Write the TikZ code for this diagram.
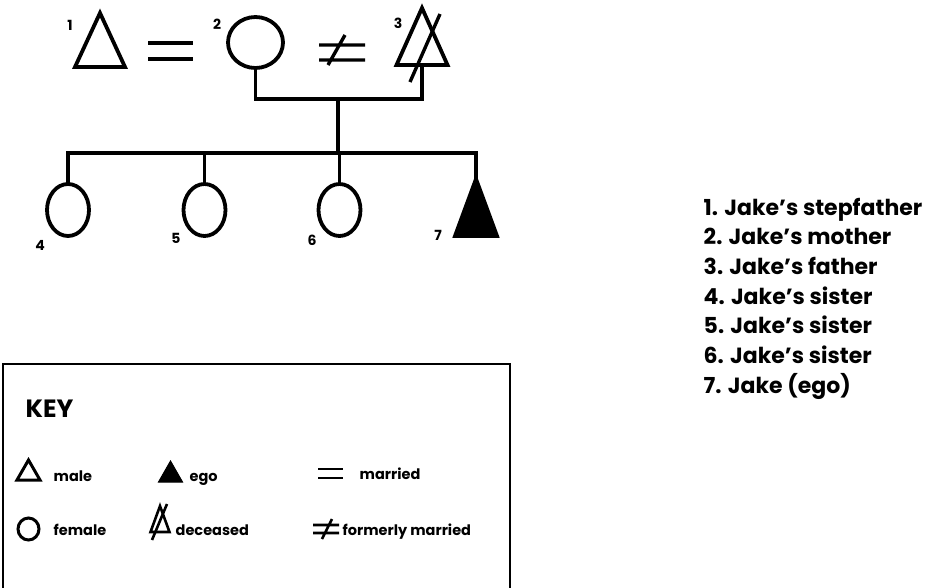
\documentclass[tikz,border=0pt]{standalone}
\usepackage{fontspec}
\setmainfont{Poppins}
\usetikzlibrary{shapes.geometric}

\begin{document}
\begin{tikzpicture}[x=1pt, y=-1pt, line width=3.4pt,
sym/.style={draw, line width=3.8pt, inner sep=0pt, outer sep=0pt},
female/.style={sym, ellipse},
male/.style={sym, isosceles triangle, isosceles triangle stretches, shape border rotate=90, anchor=apex},
ego/.style={male, fill=black},
num/.style={inner sep=0pt, font=\bfseries\fontsize{14}{14}\selectfont},
item/.style={anchor=base west, inner sep=0pt, font=\bfseries\fontsize{22}{22}\selectfont},
keytext/.style={anchor=base west, inner sep=0pt, font=\bfseries\fontsize{14.5}{14.5}\selectfont}]

\useasboundingbox (0,0) rectangle (936,587);

% parents
\node[male, minimum width=50, minimum height=54] (stepfather) at (100,13) {};
\node[female, minimum width=55, minimum height=51] (mother) at (255.5,42.5) {};
\node[male, minimum width=51, minimum height=57] (father) at (422,8) {};
\draw (father.apex) +(18,6) -- +(-12,74);
\node[num] (n1) at (70,25) {1};
\node[num] (n2) at (217,24) {2};
\node[num] (n3) at (398,23) {3};

% married / formerly married
\draw (148,43) -- (193,43) (148,59) -- (193,59);
\draw (319,45) -- (365,45) (319,60) -- (365,60) (328,65) -- (345,35);

% children
\node[female, minimum width=42, minimum height=52] (sister1) at (68,210) {};
\node[female, minimum width=42, minimum height=52] (sister2) at (204.5,210) {};
\node[female, minimum width=42, minimum height=52] (sister3) at (339.5,210) {};
\node[ego, minimum width=42, minimum height=57] (jake) at (476,179) {};
\node[num] (n4) at (40,245) {4};
\node[num] (n5) at (176,238) {5};
\node[num] (n6) at (312,240) {6};
\node[num] (n7) at (438,235) {7};

% descent lines
\coordinate (bar) at (338,99);
\coordinate (sibs) at (338,153);
\draw (mother.south) |- (bar) -| (father.south);
\draw (bar) -- (sibs);
\draw (sister1.north) |- (sibs) -| (jake.apex);
\draw (sister2.north) -- (sister2.north |- sibs);
\draw (sister3.north) -- (sister3.north |- sibs);

% who is who
\node[item] (l1) at (702,215) {1. Jake’s stepfather};
\node[item] (l2) at (702,244.7) {2. Jake’s mother};
\node[item] (l3) at (702,274.4) {3. Jake’s father};
\node[item] (l4) at (702,304.1) {4. Jake’s sister};
\node[item] (l5) at (702,333.8) {5. Jake’s sister};
\node[item] (l6) at (702,363.5) {6. Jake’s sister};
\node[item] (l7) at (702,393.2) {7. Jake (ego)};

% key
\draw[line width=2pt] (3,590) -- (3,364) -- (510,364) -- (510,590);
\node[anchor=base west, inner sep=0pt, font=\bfseries\fontsize{25}{25}\selectfont] (key) at (24,417) {KEY};
\node[male, line width=3pt, minimum width=23, minimum height=20] (kmale) at (28.5,460) {};
\node[keytext] (tmale) at (52,481) {male};
\node[ego, line width=1pt, minimum width=24, minimum height=21] (kego) at (170.5,461) {};
\node[keytext] (tego) at (188,481) {ego};
\draw[line width=2.6pt] (318,469) -- (343,469) (318,478) -- (343,478);
\node[keytext] (tmarried) at (358,479) {married};
\node[female, line width=3pt, minimum width=21, minimum height=22] (kfemale) at (28.5,529) {};
\node[keytext] (tfemale) at (52,535) {female};
\node[male, line width=2.6pt, minimum width=19, minimum height=26] (kdead) at (160,506) {};
\draw[line width=2.6pt] (kdead.apex) +(7,-2) -- +(-8,34);
\node[keytext] (tdead) at (174,535) {deceased};
\draw[line width=2.6pt] (313,525) -- (339,525) (313,533) -- (339,533) (322,539) -- (332,519);
\node[keytext] (tformer) at (341,535) {formerly married};
\end{tikzpicture}
\end{document}
